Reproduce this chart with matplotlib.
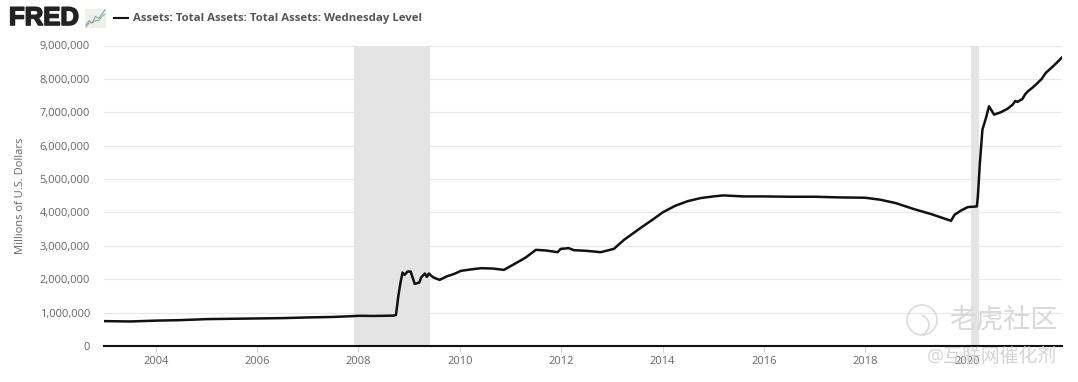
import matplotlib
matplotlib.use("Agg")
import matplotlib.pyplot as plt
import matplotlib.patheffects as pe
from matplotlib.patches import Arc, Circle

W, H = 1078, 382

# weekly level (decimal year, millions of dollars)
dates = [2003.0, 2003.5, 2004.0, 2004.5, 2005.0, 2005.5, 2006.0, 2006.5, 2007.0, 2007.5,
         2007.9, 2008.0, 2008.3, 2008.7, 2008.74, 2008.79, 2008.83, 2008.87, 2008.91, 2008.97,
         2009.03, 2009.11, 2009.2, 2009.24, 2009.31, 2009.35, 2009.39, 2009.47, 2009.6, 2009.75,
         2009.89, 2010.02, 2010.2, 2010.42, 2010.65, 2010.87, 2011.07, 2011.3, 2011.5, 2011.7,
         2011.93, 2011.99, 2012.15, 2012.25, 2012.5, 2012.78, 2013.04, 2013.24, 2013.57, 2013.8,
         2014.0, 2014.25, 2014.5, 2014.75, 2015.0, 2015.2, 2015.6, 2016.0, 2016.5, 2017.0,
         2017.5, 2018.0, 2018.3, 2018.6, 2018.96, 2019.3, 2019.69, 2019.76, 2019.89, 2020.02,
         2020.2, 2020.22, 2020.26, 2020.31, 2020.38, 2020.44, 2020.54, 2020.67, 2020.8, 2020.9,
         2020.96, 2021.0, 2021.1, 2021.15, 2021.2, 2021.3, 2021.4, 2021.48, 2021.56, 2021.64,
         2021.72, 2021.8, 2021.87]
assets = [745, 735, 760, 775, 805, 815, 825, 835, 855, 870,
          895, 905, 900, 910, 930, 1530, 1900, 2200, 2130, 2230,
          2230, 1860, 1900, 2060, 2170, 2070, 2170, 2060, 1980, 2090,
          2160, 2250, 2290, 2330, 2320, 2280, 2450, 2650, 2880, 2860,
          2810, 2910, 2930, 2870, 2850, 2810, 2910, 3180, 3540, 3780,
          4000, 4200, 4340, 4430, 4480, 4510, 4480, 4480, 4470, 4470,
          4450, 4440, 4380, 4280, 4100, 3950, 3750, 3930, 4060, 4160,
          4180, 4480, 5480, 6480, 6830, 7180, 6930, 7000, 7100, 7220,
          7340, 7310, 7400, 7530, 7620, 7740, 7880, 8000, 8180, 8290,
          8400, 8520, 8630]

recessions = [(2007.92, 2009.42), (2020.09, 2020.24)]
year_ticks = [2004, 2006, 2008, 2010, 2012, 2014, 2016, 2018, 2020]
value_ticks = [0, 1000000, 2000000, 3000000, 4000000, 5000000, 6000000, 7000000, 8000000, 9000000]

# little chart next to the logo
icon_x = [0, 1, 2, 3, 4, 5, 6]
icon_y1 = [1, 3, 2, 5, 4, 6, 8]
icon_y2 = [0, 2, 2, 3, 3, 5, 6]

plt.rcParams['font.family'] = ['Open Sans', 'Noto Sans CJK SC', 'DejaVu Sans']

fig = plt.figure(figsize=(W / 100, H / 100), dpi=100)
fig.patch.set_facecolor('white')
ax = fig.add_axes([104 / W, 1 - 346 / H, (1062 - 104) / W, 300.5 / H])

for start, end in recessions:
    ax.axvspan(start, end, color='#e4e4e4', lw=0, zorder=1)

ax.plot(dates, [a * 1000 for a in assets], color='#111111', lw=1.8, zorder=3, solid_joinstyle='round')

ax.set_xlim(2002.98, 2021.88)
ax.set_ylim(0, 9000000)
ax.set_xticks(year_ticks)
ax.set_yticks(value_ticks)
ax.set_yticklabels([f'{v:,}' for v in value_ticks])
ax.grid(axis='y', color='#e8e8e8', lw=0.9, zorder=0)
ax.set_axisbelow(True)
for side in ['top', 'left', 'right']:
    ax.spines[side].set_visible(False)
ax.spines['bottom'].set_color('#111111')
ax.spines['bottom'].set_linewidth(1.5)
ax.spines['bottom'].set_zorder(4)
ax.tick_params(axis='x', length=4, width=0.6, color='#cccccc', labelsize=8, labelcolor='#666666', pad=3)
ax.tick_params(axis='y', length=0, labelsize=8, labelcolor='#666666', pad=10)
ax.set_ylabel('Millions of U.S. Dollars', fontsize=8, color='#666666')
ax.yaxis.set_label_coords((26 - 104) / (1062 - 104), 0.5)

# header: logo and legend
logo = fig.text(9 / W, 1 - 18 / H, 'FRED', fontsize=18.5, fontweight='bold', color='#222222',
                family=['Liberation Sans', 'DejaVu Sans'], va='center', ha='left')
logo.set_path_effects([pe.withStroke(linewidth=1.2, foreground='#222222')])
icon = fig.add_axes([85 / W, 1 - 28 / H, 21 / W, 19 / H])
icon.set_facecolor('#eef0ea')
icon.plot(icon_x, icon_y1, color='#8aa4bc', lw=0.8)
icon.plot(icon_x, icon_y2, color='#9aae88', lw=0.8)
icon.set_xticks([])
icon.set_yticks([])
for s in icon.spines.values():
    s.set_visible(False)
fig.add_artist(plt.Line2D([114 / W, 128 / W], [1 - 18 / H, 1 - 18 / H], color='#111111', lw=1.5))
fig.text(133 / W, 1 - 18 / H, 'Assets: Total Assets: Total Assets: Wednesday Level', fontsize=8.2,
         fontweight='bold', color='#555555', va='center', ha='left')

# watermark
fig.text(949 / W, 1 - 320 / H, '老虎社区', fontsize=19.5, color='#d8d8d8', va='center', ha='left', zorder=6)
fig.text(927 / W, 1 - 357 / H, '@互联网催化剂', fontsize=13.6, color='#d4d4d4', va='center', ha='left', zorder=6)
fig.add_artist(Circle((922, H - 320), 15, transform=None, fill=False, ec='#dcdcdc', lw=1.2))
fig.add_artist(Arc((916, H - 325), 26, 22, angle=0, theta1=300, theta2=60, transform=None, ec='#dcdcdc', lw=1.2))

fig.savefig('out.png', dpi=100, facecolor='white')
